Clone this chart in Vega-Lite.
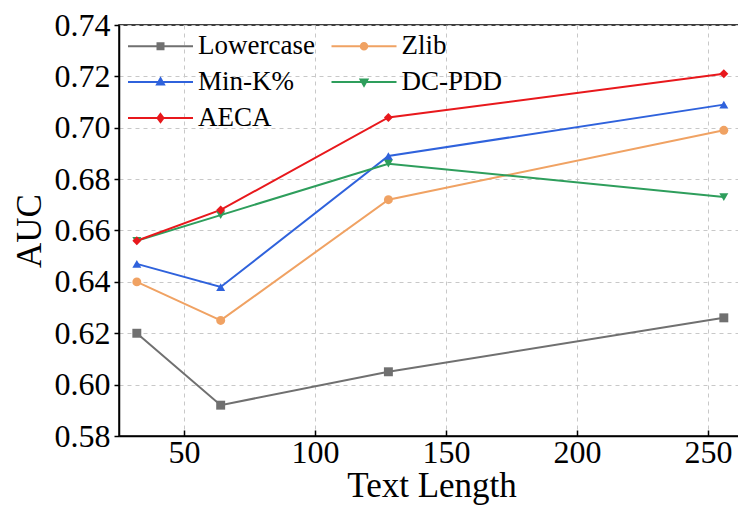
{
  "$schema": "https://vega.github.io/schema/vega-lite/v6.json",
  "width": 625,
  "height": 411,
  "autosize": {"type": "none"},
  "padding": {"left": 119, "top": 25, "right": 0, "bottom": 70},
  "background": "white",
  "config": {
    "font": "Liberation Serif",
    "view": {"stroke": "black", "strokeWidth": 1.5},
    "legend": {"labelFont": "Liberation Serif"},
    "axis": {
      "labelFont": "Liberation Serif", "labelFontSize": 32, "labelColor": "black",
      "titleFont": "Liberation Serif", "titleFontSize": 35, "titleFontWeight": "normal", "titleColor": "black",
      "domainColor": "black", "domainWidth": 1.5,
      "tickColor": "black", "tickWidth": 1.5,
      "grid": true, "gridColor": "#c8c8c8", "gridDash": [4, 4], "gridWidth": 1
    }
  },
  "data": {"values": [
    {"len": 32, "auc": 0.620, "method": "Lowercase"},
    {"len": 64, "auc": 0.592, "method": "Lowercase"},
    {"len": 128, "auc": 0.605, "method": "Lowercase"},
    {"len": 256, "auc": 0.626, "method": "Lowercase"},
    {"len": 32, "auc": 0.640, "method": "Zlib"},
    {"len": 64, "auc": 0.625, "method": "Zlib"},
    {"len": 128, "auc": 0.672, "method": "Zlib"},
    {"len": 256, "auc": 0.699, "method": "Zlib"},
    {"len": 32, "auc": 0.647, "method": "Min-K%"},
    {"len": 64, "auc": 0.638, "method": "Min-K%"},
    {"len": 128, "auc": 0.689, "method": "Min-K%"},
    {"len": 256, "auc": 0.709, "method": "Min-K%"},
    {"len": 32, "auc": 0.656, "method": "DC-PDD"},
    {"len": 64, "auc": 0.666, "method": "DC-PDD"},
    {"len": 128, "auc": 0.686, "method": "DC-PDD"},
    {"len": 256, "auc": 0.673, "method": "DC-PDD"},
    {"len": 32, "auc": 0.656, "method": "AECA"},
    {"len": 64, "auc": 0.668, "method": "AECA"},
    {"len": 128, "auc": 0.704, "method": "AECA"},
    {"len": 256, "auc": 0.721, "method": "AECA"}
  ]},
  "layer": [
    {
      "mark": {"type": "line", "strokeWidth": 2},
      "encoding": {
        "x": {"field": "len", "type": "quantitative",
              "scale": {"domain": [25.2, 263.7], "nice": false, "zero": false},
              "axis": {"values": [50, 100, 150, 200, 250], "title": "Text Length", "tickSize": -6, "labelPadding": 7, "titlePadding": 0}},
        "y": {"field": "auc", "type": "quantitative",
              "scale": {"domain": [0.58, 0.74], "nice": false, "zero": false},
              "axis": {"values": [0.58, 0.6, 0.62, 0.64, 0.66, 0.68, 0.7, 0.72, 0.74], "format": ".2f", "title": "AUC", "tickSize": 5, "labelPadding": 4, "titlePadding": 7}},
        "color": {"field": "method", "type": "nominal",
                  "scale": {"domain": ["Lowercase", "Zlib", "Min-K%", "DC-PDD", "AECA"],
                            "range": ["#707070", "#f0a263", "#2f62dc", "#2e9e5c", "#e8181c"]},
                  "legend": {"orient": "none", "legendX": 28, "legendY": 7.5, "columns": 2, "direction": "horizontal",
                             "symbolType": "M-6.5,0H6.5", "symbolSize": 100, "symbolStrokeWidth": 2,
                             "labelFont": "Liberation Serif", "labelFontSize": 27, "labelColor": "black",
                             "labelOffset": 24, "columnPadding": 12.5, "rowPadding": 8,
                             "title": null, "padding": 0,
                             "encode": {"symbols": {"update": {
                               "shape": {"signal": "datum.value === 'Lowercase' ? 'M-6.5,0H6.5M-0.6,-0.6H0.6V0.6H-0.6Z' : datum.value === 'Zlib' ? 'M-6.5,0H6.5M-0.65,0A0.65,0.65 0 1,0 0.65,0A0.65,0.65 0 1,0 -0.65,0Z' : datum.value === 'Min-K%' ? 'M-6.5,0H6.5M0,-0.75L0.7,0.5H-0.7Z' : datum.value === 'DC-PDD' ? 'M-6.5,0H6.5M0,0.75L0.7,-0.5H-0.7Z' : 'M-6.5,0H6.5M0,-0.8L0.6,0L0,0.8L-0.6,0Z'"},
                               "fill": {"scale": "color", "field": "value"}
                             }}}}}
      }
    },
    {
      "mark": {"type": "point", "filled": true, "size": 80, "opacity": 1},
      "encoding": {
        "x": {"field": "len", "type": "quantitative"},
        "y": {"field": "auc", "type": "quantitative"},
        "fill": {"field": "method", "type": "nominal",
                 "sort": ["Lowercase", "Zlib", "Min-K%", "DC-PDD", "AECA"],
                 "scale": {"range": ["#707070", "#f0a263", "#2f62dc", "#2e9e5c", "#e8181c"]},
                 "legend": null},
        "shape": {"field": "method", "type": "nominal",
                  "sort": ["Lowercase", "Zlib", "Min-K%", "DC-PDD", "AECA"],
                  "scale": {"range": ["square", "circle", "triangle-up", "triangle-down", "diamond"]},
                  "legend": null}
      }
    }
  ]
}
